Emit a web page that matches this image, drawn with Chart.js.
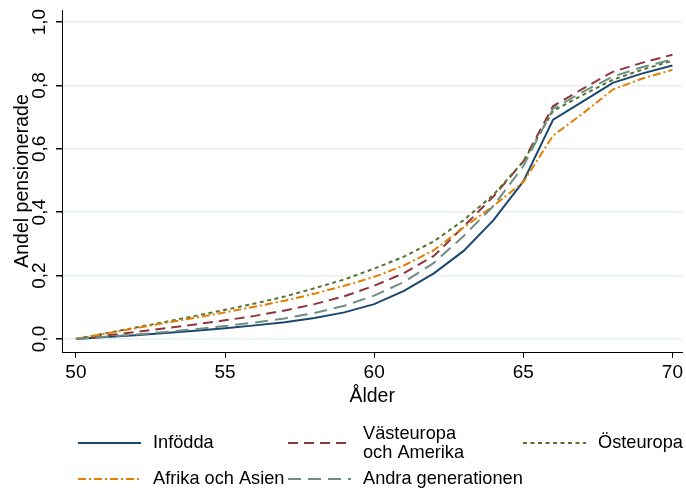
<!DOCTYPE html>
<html>
<head>
<meta charset="utf-8">
<script src="https://cdn.jsdelivr.net/npm/chart.js@4.4.0/dist/chart.umd.min.js"></script>
<style>
  html, body { margin: 0; padding: 0; background: #fff; }
</style>
</head>
<body>
<canvas id="myChart" width="686" height="492"></canvas>
<script>
// ålder (x) och andel pensionerade per grupp
var ages = [50, 51, 52, 53, 54, 55, 56, 57, 58, 59, 60, 61, 62, 63, 64, 65, 66, 67, 68, 69, 70];
var infodda = [0, .006, .012, .019, .026, .034, .043, .053, .066, .084, .11, .152, .207, .278, .375, .497, .692, .75, .808, .838, .863];
var vasteuropa = [0, .011, .022, .034, .046, .059, .073, .09, .11, .135, .168, .208, .262, .355, .45, .56, .735, .79, .843, .872, .897];
var osteuropa = [0, .018, .036, .054, .073, .092, .112, .134, .16, .188, .222, .26, .308, .375, .455, .56, .72, .77, .818, .85, .878];
var afrikaAsien = [0, .017, .034, .051, .067, .084, .102, .121, .143, .168, .196, .232, .28, .352, .42, .495, .642, .712, .787, .822, .849];
var andraGen = [0, .007, .014, .022, .031, .041, .052, .065, .082, .105, .137, .18, .24, .325, .42, .545, .727, .78, .828, .858, .882];

var seriesNames = [["Infödda"], ["Västeuropa", "och Amerika"], ["Östeuropa"], ["Afrika och Asien"], ["Andra generationen"]];
var xTicks = [50, 55, 60, 65, 70];
var yTicks = [0, 0.2, 0.4, 0.6, 0.8, 1.0];
var yTickLabels = ["0,0", "0,2", "0,4", "0,6", "0,8", "1,0"];

var FONT = "'Liberation Sans', Arial, sans-serif";

function pts(vals) {
  var out = [];
  for (var i = 0; i < ages.length; i++) out.push({ x: ages[i], y: vals[i] });
  return out;
}

function series(vals, color, dash, idx) {
  return {
    data: pts(vals),
    borderColor: color,
    backgroundColor: color,
    borderWidth: 2,
    borderDash: dash,
    pointRadius: 0,
    tension: 0,
    fill: false,
    order: 5 - idx
  };
}

// y tick labels (rotated) and legend in Stata layout
var stataPlugin = {
  id: "stata",
  afterDraw: function(chart) {
    var ctx = chart.ctx;
    var ys = chart.scales.y;
    ctx.save();
    ctx.fillStyle = "#000";
    ctx.font = "19px " + FONT;
    ctx.textAlign = "center";
    ctx.textBaseline = "alphabetic";
    for (var i = 0; i < yTicks.length; i++) {
      ctx.save();
      ctx.translate(45, ys.getPixelForValue(yTicks[i]));
      ctx.rotate(-Math.PI / 2);
      ctx.fillText(yTickLabels[i], 0, 0);
      ctx.restore();
    }

    var colX = [78, 288, 523];
    var rowY = [443, 479];
    var slots = [[0, 0], [1, 0], [2, 0], [0, 1], [1, 1]];
    ctx.font = "18.2px " + FONT;
    ctx.textAlign = "left";
    ctx.textBaseline = "middle";
    chart.data.datasets.forEach(function(ds, i) {
      var x0 = colX[slots[i][0]];
      var y0 = rowY[slots[i][1]];
      ctx.save();
      ctx.strokeStyle = ds.borderColor;
      ctx.lineWidth = ds.borderWidth;
      ctx.setLineDash(ds.borderDash);
      ctx.beginPath();
      ctx.moveTo(x0, y0);
      ctx.lineTo(x0 + 63, y0);
      ctx.stroke();
      ctx.restore();
      var lines = seriesNames[i];
      var lh = 19;
      var start = y0 - (lines.length - 1) * lh / 2;
      for (var k = 0; k < lines.length; k++) {
        ctx.fillText(lines[k], x0 + 75, start + k * lh);
      }
    });
    ctx.restore();
  }
};

function renderChart() {
  var ctx = document.getElementById("myChart").getContext("2d");
  Chart.defaults.font.family = FONT;
  Chart.defaults.color = "#000";
  new Chart(ctx, {
    type: "line",
    data: {
      datasets: [
        series(infodda, "#1a476f", [], 0),
        series(vasteuropa, "#90353b", [10, 6], 1),
        series(osteuropa, "#55752f", [4, 3.5], 2),
        series(afrikaAsien, "#e37e00", [8, 3, 2, 3], 3),
        series(andraGen, "#6e8e84", [13, 7], 4)
      ]
    },
    options: {
      responsive: false,
      animation: false,
      devicePixelRatio: 1,
      layout: { padding: { top: 10, right: 0, bottom: 84, left: 0 } },
      plugins: { legend: { display: false }, tooltip: { enabled: false } },
      scales: {
        x: {
          type: "linear",
          min: 49.533,
          max: 70.333,
          afterBuildTicks: function(s) { s.ticks = xTicks.map(function(v) { return { value: v }; }); },
          afterFit: function(s) { s.height = 56; },
          ticks: { font: { size: 19 }, padding: 3, maxRotation: 0, callback: function(v) { return String(v); } },
          grid: { drawOnChartArea: false, drawTicks: true, tickLength: 6, tickColor: "#000" },
          border: { color: "#000", width: 1 },
          title: { display: true, text: "Ålder", font: { size: 19.5 }, padding: { top: 0, bottom: 0 } }
        },
        y: {
          type: "linear",
          min: -0.041,
          max: 1.038,
          afterBuildTicks: function(s) { s.ticks = yTicks.map(function(v) { return { value: v }; }); },
          afterFit: function(s) { s.width = 62; },
          ticks: { display: false },
          grid: { color: "#e8eff2", lineWidth: 1.5, drawTicks: true, tickLength: 6, tickColor: "#000" },
          border: { color: "#000", width: 1 },
          title: { display: true, text: "Andel pensionerade", font: { size: 19.5 }, padding: { top: 11, bottom: 0 } }
        }
      }
    },
    plugins: [stataPlugin]
  });
}

renderChart();
</script>
</body>
</html>
